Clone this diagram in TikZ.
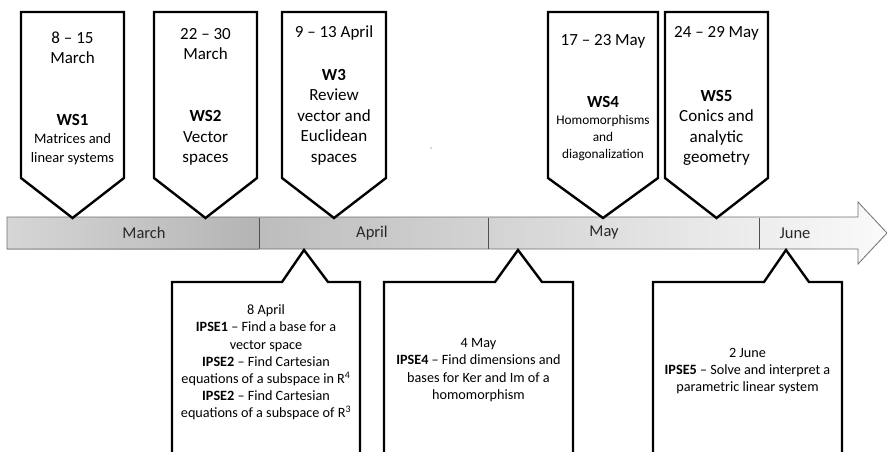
\documentclass[tikz,border=0pt]{standalone}
\usepackage{fontspec}
\setmainfont{Carlito}
\definecolor{barA}{RGB}{164,164,164}
\definecolor{barB}{RGB}{250,250,250}
\definecolor{marA}{RGB}{214,214,214}
\definecolor{marB}{RGB}{180,180,180}
\definecolor{edgegray}{RGB}{110,110,110}
\definecolor{divgray}{RGB}{80,80,80}
\definecolor{monthtext}{RGB}{40,40,40}
\begin{document}
\begin{tikzpicture}[x=1pt,y=-1pt,
  boxline/.style={draw=black,line width=2.4pt,fill=white,line join=miter},
  toptext/.style={align=center,inner sep=0pt,font=\fontsize{17}{20.3}\selectfont},
  midtext/.style={align=center,inner sep=0pt,font=\fontsize{14.5}{18.5}\selectfont},
  smalltext/.style={align=center,inner sep=0pt,font=\fontsize{13.3}{17}\selectfont},
  bottext/.style={align=center,inner sep=0pt,font=\fontsize{14.2}{17.2}\selectfont},
  monthlbl/.style={inner sep=0pt,text=monthtext,font=\fontsize{16.5}{18}\selectfont},
  divider/.style={draw=divgray,line width=0.9pt}]
\useasboundingbox (0,0) rectangle (887,452);
\clip (0,0) rectangle (887,452);

% timeline arrow
\path[left color=barA,right color=barB] (7,217) -- (858,217) -- (858,202) -- (887,233) -- (858,264) -- (858,249) -- (7,249) -- cycle;
\path[left color=marA,right color=marB] (7,217) rectangle (259,249);
\draw[edgegray,line width=0.8pt] (7,217) -- (858,217) -- (858,202) -- (887,233) -- (858,264) -- (858,249) -- (7,249) -- cycle;
\draw[divider] (259,217.5) -- (259,248.5);
\draw[divider] (488,217.5) -- (488,248.5);
\draw[divider] (759,217.5) -- (759,248.5);
\node[monthlbl] (mmar) at (144,233) {March};
\node[monthlbl] (mapr) at (372,233) {April};
\node[monthlbl] (mmay) at (604,233) {May};
\node[monthlbl] (mjun) at (795,233) {June};

% top pentagons
\path[boxline] (21,12) -- (124,12) -- (124,178) -- (72.5,218) -- (21,178) -- cycle;
\path[boxline] (154,12) -- (257,12) -- (257,178) -- (205.5,218) -- (154,178) -- cycle;
\path[boxline] (282,12) -- (386,12) -- (386,178) -- (334,218) -- (282,178) -- cycle;
\path[boxline] (548,12) -- (658,12) -- (658,178) -- (603,218) -- (548,178) -- cycle;
\path[boxline] (665,12) -- (768,12) -- (768,178) -- (716.5,218) -- (665,178) -- cycle;

\node[toptext] (d1) at (72.5,48) {8 -- 15\\March};
\node[toptext] (w1h) at (72.5,120) {\textbf{WS1}};
\node[midtext] (w1) at (72.5,149) {Matrices and\\linear systems};
\node[toptext] (d2) at (205.5,44) {22 -- 30\\March};
\node[toptext] (w2) at (205.5,138) {\textbf{WS2}\\Vector\\spaces};
\node[toptext] (d3) at (334,33) {9 -- 13 April};
\node[toptext,font=\fontsize{17}{20.5}\selectfont] (w3) at (334,117) {\textbf{W3}\\Review\\vector and\\Euclidean\\spaces};
\node[toptext] (d4) at (603,41) {17 -- 23 May};
\node[toptext] (w4h) at (603,102) {\textbf{WS4}};
\node[smalltext] (w4) at (603,138) {Homomorphisms\\and\\diagonalization};
\node[toptext] (d5) at (716.5,33) {24 -- 29 May};
\node[toptext] (w5) at (716.5,128) {\textbf{WS5}\\Conics and\\analytic\\geometry};

% stray dot
\fill[black!70] (431,148) circle (0.7pt);

% bottom callouts
\path[boxline] (172,470) -- (172,282) -- (282,282) -- (304,250) -- (328,282) -- (360,282) -- (360,470);
\path[boxline] (384,470) -- (384,282) -- (495,282) -- (518,250) -- (542,282) -- (573,282) -- (573,470);
\path[boxline] (653,470) -- (653,282) -- (764,282) -- (786,250) -- (809,282) -- (842,282) -- (842,470);

\node[bottext] (i1) at (266,362.5) {8 April\\\textbf{IPSE1} -- Find a base for a\\vector space\\\textbf{IPSE2} -- Find Cartesian\\equations of a subspace in R\textsuperscript{4}\\\textbf{IPSE2} -- Find Cartesian\\equations of a subspace of R\textsuperscript{3}};
\node[bottext] (i2) at (478.5,370) {4 May\\\textbf{IPSE4} -- Find dimensions and\\bases for Ker and Im of a\\homomorphism};
\node[bottext] (i3) at (747.5,371) {2 June\\\textbf{IPSE5} -- Solve and interpret a\\parametric linear system};
\end{tikzpicture}
\end{document}
